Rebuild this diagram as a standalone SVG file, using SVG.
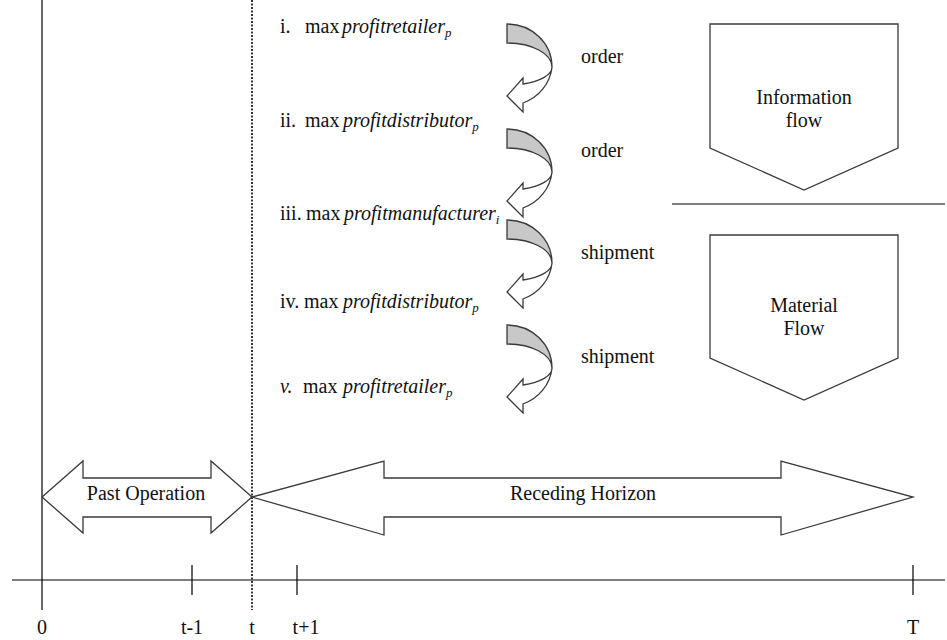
<svg xmlns="http://www.w3.org/2000/svg" width="947" height="640" viewBox="0 0 947 640" font-family="'Liberation Serif', 'DejaVu Serif', serif">
<style>
  text { font-family: 'Liberation Serif', 'DejaVu Serif', serif; font-size: 20px; fill: #111; }
  .it { font-style: italic; }
  .sub { font-size: 13px; font-style: italic; }
  .shape { fill: #fff; stroke: #3a3a3a; stroke-width: 1.3; }
  .gray { fill: #c8c8c8; stroke: #3a3a3a; stroke-width: 1.3; }
  .axis { stroke: #000; stroke-width: 1.2; fill: none; }
  .mid { text-anchor: middle; }
</style>
<defs>
  <g id="curved">
    <path class="shape" d="M45,43 A45,43 0 0 1 16,79 L16,88 L0,72 L16,54 L16,60 A45,18 0 0 0 45,43 Z"/>
    <path class="gray" d="M0,0 A45,43 0 0 1 45,43 A45,24 0 0 0 0,19 Z"/>
  </g>
</defs>
<rect width="947" height="640" fill="#fff"/>

<g id="axes">
  <line class="axis" x1="42" y1="0" x2="42" y2="610"/>
  <line class="axis" x1="12" y1="580" x2="945" y2="580"/>
  <line class="axis" x1="192" y1="565" x2="192" y2="595"/>
  <line class="axis" x1="297" y1="565" x2="297" y2="595"/>
  <line class="axis" x1="913" y1="565" x2="913" y2="595"/>
  <line x1="252" y1="0" x2="252" y2="610" stroke="#222" stroke-width="1.8" stroke-dasharray="2,1.5"/>
  <text class="mid" x="42" y="634">0</text>
  <text class="mid" x="192" y="634">t-1</text>
  <text class="mid" x="252" y="634">t</text>
  <text class="mid" x="306" y="634">t+1</text>
  <text class="mid" x="913" y="634">T</text>
</g>

<g id="past-operation">
  <path class="shape" d="M42,497 L83,461 L83,478 L211,478 L211,461 L252,497 L211,533 L211,517 L83,517 L83,533 Z"/>
  <text class="mid" x="146" y="500">Past Operation</text>
</g>

<g id="receding-horizon">
  <path class="shape" d="M252,497 L384,461 L384,478 L781,478 L781,461 L913,497 L781,535 L781,517 L384,517 L384,535 Z"/>
  <text class="mid" x="583" y="500">Receding Horizon</text>
</g>

<g id="information-flow">
  <path class="shape" d="M710,24 L898,24 L898,148 L804,190 L710,148 Z"/>
  <text class="mid" x="804" y="104">Information</text>
  <text class="mid" x="804" y="127">flow</text>
</g>
<line id="separator" x1="672" y1="204" x2="945" y2="204" stroke="#555" stroke-width="1.5"/>

<g id="material-flow">
  <path class="shape" d="M710,235 L898,235 L898,358 L804,400 L710,358 Z"/>
  <text class="mid" x="804" y="312">Material</text>
  <text class="mid" x="804" y="335">Flow</text>
</g>

<g id="step-i">
  <text x="280" y="33">i.<tspan x="305">max</tspan><tspan x="342" class="it">profitretailer</tspan><tspan class="sub" dy="4">p</tspan></text>
</g>
<g id="step-ii">
  <text x="280" y="127">ii.<tspan x="305">max</tspan><tspan x="343" class="it">profitdistributor</tspan><tspan class="sub" dy="4">p</tspan></text>
</g>
<g id="step-iii">
  <text x="280" y="220">iii.<tspan x="306">max</tspan><tspan x="344" class="it">profitmanufacturer</tspan><tspan class="sub" dy="4">i</tspan></text>
</g>
<g id="step-iv">
  <text x="280" y="308">iv.<tspan x="304">max</tspan><tspan x="343" class="it">profitdistributor</tspan><tspan class="sub" dy="4">p</tspan></text>
</g>
<g id="step-v">
  <text x="280" y="393"><tspan class="it">v.</tspan><tspan x="303">max</tspan><tspan x="343" class="it">profitretailer</tspan><tspan class="sub" dy="4">p</tspan></text>
</g>

<g id="connectors">
  <use href="#curved" x="507" y="24"/>
  <use href="#curved" x="507" y="129"/>
  <use href="#curved" x="507" y="220"/>
  <use href="#curved" x="507" y="325"/>
  <text x="581" y="63">order</text>
  <text x="581" y="157">order</text>
  <text x="581" y="259">shipment</text>
  <text x="581" y="363">shipment</text>
</g>
</svg>
